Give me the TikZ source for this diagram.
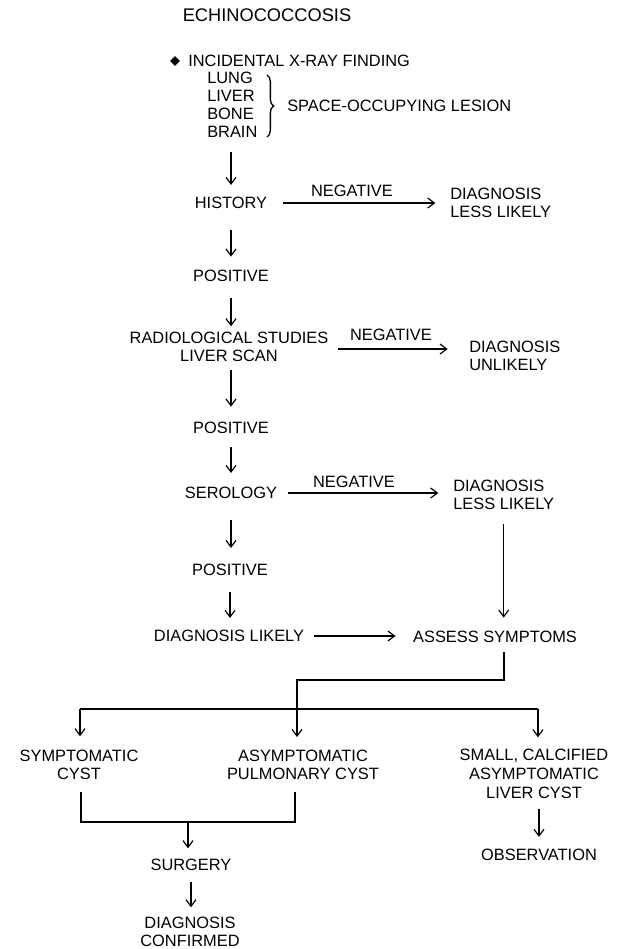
\documentclass[tikz,border=0pt]{standalone}
\usepackage{fontspec}
\setmainfont{Liberation Sans}
\usetikzlibrary{arrows.meta,decorations.pathreplacing,calc,shapes.geometric}
\begin{document}
\begin{tikzpicture}[x=0.75pt,y=-0.75pt,
  txt/.style={inner sep=0pt, font=\fontsize{12.3pt}{14pt}\selectfont, align=center},
  lft/.style={txt, align=left, anchor=west},
  conn/.style={line width=0.9pt},
  arr/.style={conn, -{Straight Barb[length=5pt,width=7.5pt]}}]
\useasboundingbox (0,0) rectangle (621,949);

% texts
\node[txt, font=\fontsize{13.7pt}{15pt}\selectfont] (title) at (267,15) {ECHINOCOCCOSIS};
\node[diamond, fill=black, inner sep=0pt, minimum width=7.5pt, minimum height=7.5pt] (dia) at (175,61) {};
\node[lft] (xray) at (188,61) {INCIDENTAL X-RAY FINDING};
\node[lft, font=\fontsize{12.3pt}{13.5pt}\selectfont] (organs) at (207,105) {LUNG\\LIVER\\BONE\\BRAIN};
\node[lft] (soc) at (287,106) {SPACE-OCCUPYING LESION};

\node[txt] (hist) at (231,203) {HISTORY};
\node[txt] (pos1) at (231,276) {POSITIVE};
\node[txt] (radio) at (229,347) {RADIOLOGICAL STUDIES\\LIVER SCAN};
\node[txt] (pos2) at (231,428) {POSITIVE};
\node[txt] (sero) at (231,493) {SEROLOGY};
\node[txt] (pos3) at (230,570) {POSITIVE};
\node[txt] (dlik) at (229,636) {DIAGNOSIS LIKELY};

\node[lft] (dless1) at (450,203) {DIAGNOSIS\\LESS LIKELY};
\node[lft] (dunl) at (469,356) {DIAGNOSIS\\UNLIKELY};
\node[lft] (dless2) at (453,495) {DIAGNOSIS\\LESS LIKELY};
\node[txt] (assess) at (495,637) {ASSESS SYMPTOMS};

\node[txt] (neg1) at (352,191) {NEGATIVE};
\node[txt] (neg2) at (391,335) {NEGATIVE};
\node[txt] (neg3) at (354,482) {NEGATIVE};

\node[txt] (symp) at (79,765) {SYMPTOMATIC\\CYST};
\node[txt] (asym) at (303,765) {ASYMPTOMATIC\\PULMONARY CYST};
\node[txt] (small) at (534,774) {SMALL, CALCIFIED\\ASYMPTOMATIC\\LIVER CYST};
\node[txt] (surg) at (191,865) {SURGERY};
\node[txt] (dconf) at (190,932) {DIAGNOSIS\\CONFIRMED};
\node[txt] (obs) at (539,855) {OBSERVATION};

% brace
\draw[line width=1pt, decorate, decoration={brace, amplitude=5pt}] (267,75) -- (267,137);

% vertical chain
\draw[arr, shorten <=10.5pt, shorten >=9pt] (organs.south -| hist.north) -- (hist.north);
\draw[arr, shorten <=16pt, shorten >=10pt] (hist.south) -- (pos1.north);
\draw[arr, shorten <=12pt, shorten >=4pt] (pos1.south) -- (pos1.south |- radio.north);
\draw[arr, shorten <=6pt, shorten >=11.5pt] (radio.south -| pos2.north) -- (pos2.north);
\draw[arr, shorten <=10pt, shorten >=10.5pt] (pos2.south) -- (sero.north);
\draw[arr, shorten <=16pt, shorten >=12pt] (sero.south) -- (sero.south |- pos3.north);
\draw[arr, shorten <=12pt, shorten >=9pt] (pos3.south) -- (pos3.south |- dlik.north);

% horizontal arrows
\draw[arr, shorten <=12pt, shorten >=11pt] (hist.east) -- (hist.east -| dless1.west);
\draw[arr, shorten <=7pt, shorten >=16pt] ([yshift=-1.5pt]radio.east) -- ([yshift=-1.5pt]radio.east -| dunl.west);
\draw[arr, shorten <=8pt, shorten >=11pt] (sero.east) -- (sero.east -| dless2.west);
\draw[arr, shorten <=7pt, shorten >=13pt] (dlik.east) -- (dlik.east -| assess.west);
\draw[arr, shorten <=10pt, shorten >=10pt] (dless2.south) -- (dless2.south |- assess.north);

% branching
\coordinate (jA) at (504,680);
\coordinate (jB) at (297,737);
\draw[arr, shorten <=7pt] (assess.south -| jA) -- (jA) -| (jB);
\coordinate (bL) at (80,709);
\coordinate (bR) at (538,709);
\draw[conn] (bL) -- (bR);
\draw[arr, shorten >=10pt] (bL) -- (bL |- symp.north);
\draw[arr, shorten >=9pt] (bR) -- (bR |- small.north);

% bracket to surgery
\coordinate (kL) at (81,822);
\coordinate (kR) at (295,822);
\draw[conn, shorten <=9pt, shorten >=9pt] (kL |- symp.south) -- (kL) -- (kR) -- (kR |- asym.south);
\draw[arr, shorten >=8pt] (kL -| 188,0) -- (188,0 |- surg.north);
\draw[arr, shorten <=8pt, shorten >=7pt] (surg.south) -- (surg.south |- dconf.north);
\draw[arr, shorten <=7.5pt, shorten >=9pt] (obs.north |- small.south) -- (obs.north);
\end{tikzpicture}
\end{document}
